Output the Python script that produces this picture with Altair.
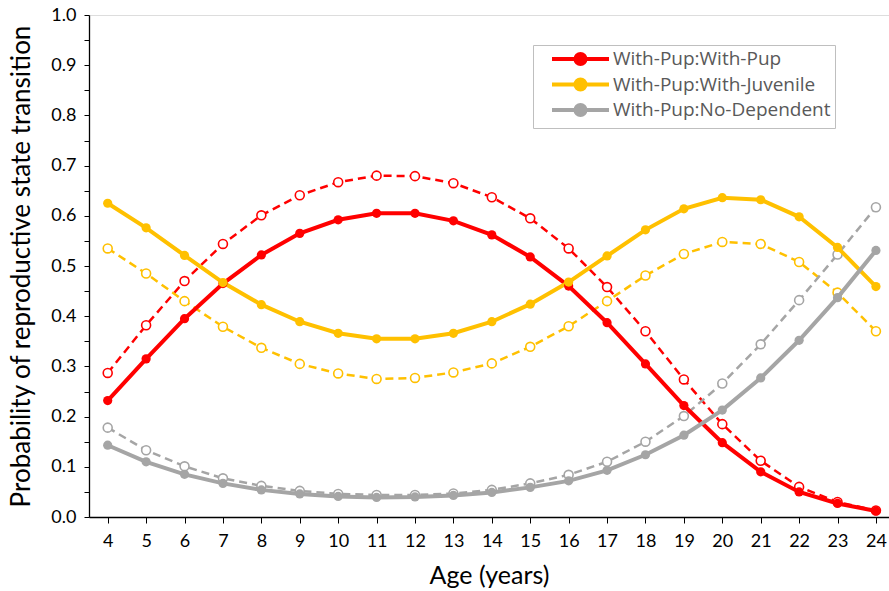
import altair as alt
import pandas as pd

ages = list(range(4, 25))

pup_pup = [0.232, 0.315, 0.395, 0.465, 0.522, 0.565, 0.592, 0.605, 0.605, 0.590, 0.562,
           0.518, 0.460, 0.387, 0.305, 0.222, 0.148, 0.090, 0.050, 0.027, 0.012]
pup_pup_d = [0.287, 0.382, 0.470, 0.544, 0.601, 0.641, 0.667, 0.680, 0.679, 0.665, 0.637,
             0.595, 0.535, 0.458, 0.370, 0.274, 0.185, 0.112, 0.060, 0.030, 0.013]
pup_juv = [0.625, 0.576, 0.521, 0.467, 0.423, 0.389, 0.366, 0.355, 0.355, 0.366, 0.389,
           0.424, 0.468, 0.520, 0.572, 0.614, 0.636, 0.632, 0.598, 0.537, 0.459]
pup_juv_d = [0.535, 0.485, 0.430, 0.379, 0.337, 0.305, 0.286, 0.275, 0.277, 0.288, 0.306,
             0.339, 0.380, 0.430, 0.481, 0.524, 0.548, 0.544, 0.508, 0.447, 0.370]
pup_nod = [0.143, 0.110, 0.085, 0.067, 0.054, 0.046, 0.041, 0.039, 0.040, 0.043, 0.049,
           0.059, 0.072, 0.093, 0.124, 0.163, 0.213, 0.277, 0.352, 0.437, 0.531]
pup_nod_d = [0.178, 0.133, 0.101, 0.077, 0.062, 0.052, 0.046, 0.044, 0.044, 0.047, 0.054,
             0.067, 0.084, 0.110, 0.150, 0.201, 0.266, 0.344, 0.432, 0.523, 0.617]
y_ticks = [0.0, 0.05, 0.1, 0.15, 0.2, 0.25, 0.3, 0.35, 0.4, 0.45, 0.5,
           0.55, 0.6, 0.65, 0.7, 0.75, 0.8, 0.85, 0.9, 0.95, 1.0]

series_names = ["With-Pup:With-Pup", "With-Pup:With-Juvenile", "With-Pup:No-Dependent"]
colors = ["#FF0000", "#FFC000", "#A5A5A5"]

solid_rows, dashed_rows = [], []
for i, (name, s, d) in enumerate(zip(series_names,
                                     [pup_pup, pup_juv, pup_nod],
                                     [pup_pup_d, pup_juv_d, pup_nod_d])):
    for a, v, w in zip(ages, s, d):
        solid_rows.append({"age": a, "p": v, "series": name, "order": i})
        dashed_rows.append({"age": a, "p": w, "series": name, "order": i})
solid = pd.DataFrame(solid_rows)
dashed = pd.DataFrame(dashed_rows)

FONT = "Lato"
xscale = alt.Scale(domain=[3.513, 24.34], nice=False, zero=False)
yscale = alt.Scale(domain=[0, 1], nice=False)
cscale = alt.Scale(domain=series_names, range=colors)

# legend glyph: a line with a dot in its middle (units of 8px)
legend_symbol = ("M0.625,0 H7.75 M4.81,0 A0.625,0.625 0 1,1 3.56,0 "
                 "A0.625,0.625 0 1,1 4.81,0 Z")

legend = alt.Legend(title=None, orient="none", legendX=444, legendY=30,
                    symbolType=legend_symbol, symbolSize=256,
                    symbolStrokeWidth=4,
                    labelFontSize=19, labelColor="#595959",
                    labelFont="Open Sans",
                    rowPadding=-2.5, padding=4,
                    strokeColor="#BFBFBF", fillColor="white",
                    labelOffset=56, labelLimit=400)

x_axis = alt.Axis(title="Age (years)", values=ages, format="d",
                  labelOverlap=False, labelFlush=False,
                  grid=False, domainColor="#000", tickColor="#000",
                  tickSize=6, labelFontSize=18, labelColor="#000",
                  labelFont=FONT, titleFont=FONT, titleFontSize=25,
                  titleFontWeight="normal", titleColor="#000",
                  labelPadding=9, titlePadding=13, domainWidth=1.3)
y_axis = alt.Axis(title="Probability of reproductive state transition",
                  values=y_ticks,
                  labelExpr="(round(datum.value*100) % 10 == 0) ? format(datum.value, '.1f') : ''",
                  labelOverlap=False, labelFlush=False,
                  grid=False, domainColor="#000", tickColor="#000",
                  tickSize=5, labelFontSize=18, labelColor="#000",
                  labelFont=FONT, titleFont=FONT, titleFontSize=26,
                  titleFontWeight="normal", titleColor="#000",
                  labelPadding=8, titlePadding=16, domainWidth=1.3)

x_enc = alt.X("age:Q", scale=xscale, axis=x_axis)
y_enc = alt.Y("p:Q", scale=yscale, axis=y_axis)
color_enc = alt.Color("series:N", scale=cscale, legend=legend)

dashed_line = alt.Chart(dashed).mark_line(strokeWidth=2.5, strokeDash=[8, 5]).encode(
    x=x_enc, y=y_enc, color=color_enc, detail="series:N")
dashed_pts = alt.Chart(dashed).mark_point(filled=False, fill="white", fillOpacity=1,
                                          size=80, strokeWidth=1.6, opacity=1).encode(
    x=x_enc, y=y_enc, color=color_enc)
solid_line = alt.Chart(solid).mark_line(strokeWidth=4).encode(
    x=x_enc, y=y_enc, color=color_enc, detail="series:N")
solid_pts = alt.Chart(solid).mark_circle(size=85, opacity=1).encode(
    x=x_enc, y=y_enc, color=color_enc)

chart = alt.layer(dashed_line, dashed_pts, solid_line, solid_pts).properties(
    width=800, height=502,
    autosize=alt.AutoSizeParams(type="none"),
    padding={"left": 89, "top": 15, "right": 0, "bottom": 74},
).configure_view(stroke=None).configure(background="white")

chart.save("out.html", embed_options={"renderer": "svg", "actions": False})
